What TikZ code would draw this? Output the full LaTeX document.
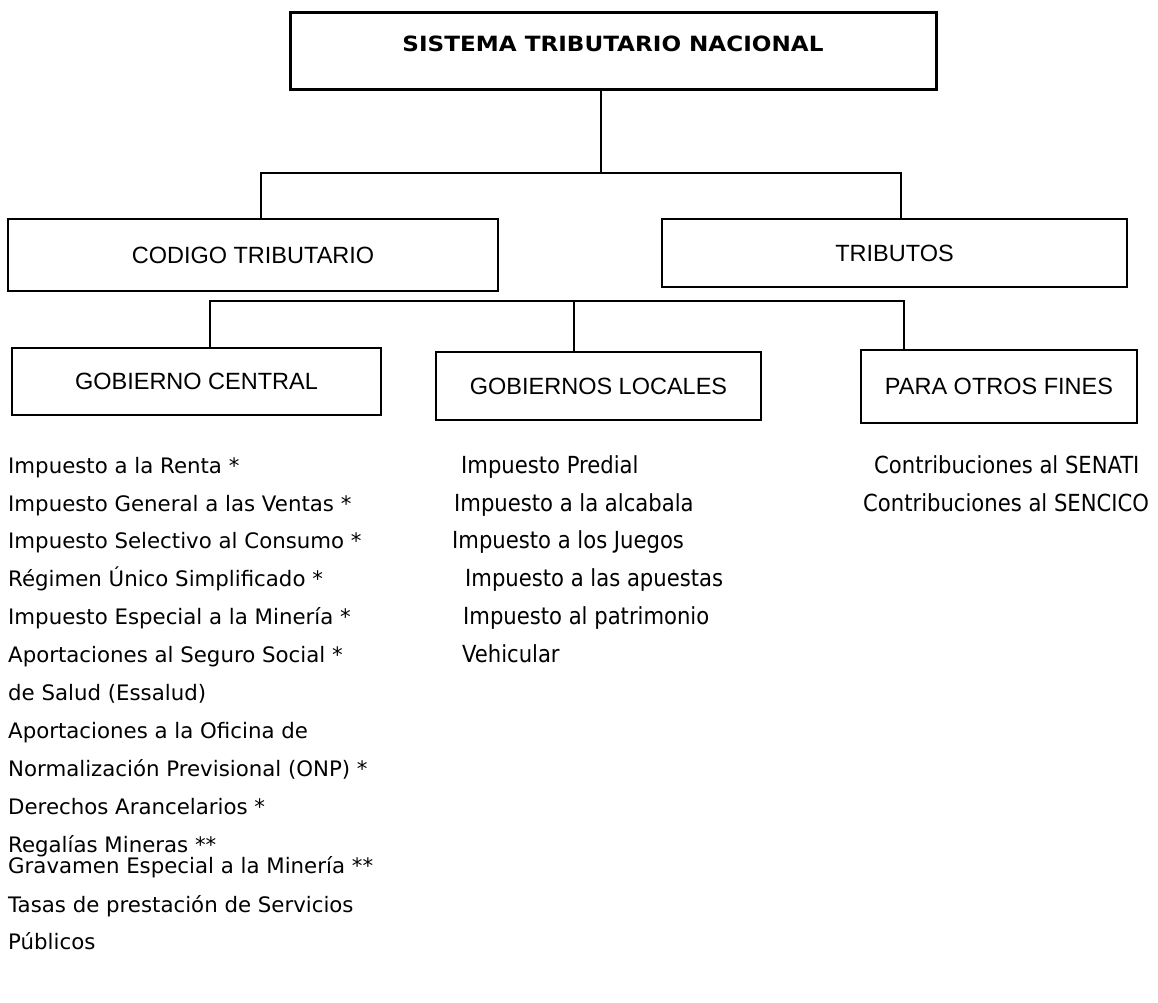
\documentclass[tikz,border=0pt]{standalone}
\usepackage{fontspec}
\usepackage{graphicx}
\setmainfont{DejaVu Sans}
\newfontfamily\listfont{DejaVu Sans}
\newfontfamily\condfont{DejaVu Sans Condensed}
\newfontfamily\boxfont{Liberation Sans}
\tikzset{
  boxnode/.style={draw, line width=1.4pt, rectangle, inner sep=0pt,
    font=\boxfont\fontsize{23.5}{28}\selectfont},
  conn/.style={line width=1.4pt},
  litem/.style={anchor=base west, inner sep=0pt, font=\listfont\fontsize{21.3}{25}\selectfont},
  citem/.style={anchor=base west, inner sep=0pt, font=\condfont\fontsize{23.5}{28}\selectfont},
}
\begin{document}
\begin{tikzpicture}[x=1pt,y=-1pt]
\useasboundingbox[fill=white] (0,0) rectangle (1158,1002);

% top box
\node[draw, line width=3pt, minimum width=646pt, minimum height=77pt, inner sep=0pt] (top) at (613,50.5) {};
\node[inner sep=0pt, font=\bfseries\fontsize{21}{25}\selectfont] (toptxt) at (613,44) {\scalebox{1.1}[1]{SISTEMA TRIBUTARIO NACIONAL}};

% second level
\node[boxnode, minimum width=490pt, minimum height=72pt] (cod) at (253,255) {CODIGO TRIBUTARIO};
\node[boxnode, minimum width=465pt, minimum height=68pt] (trib) at (894.5,253) {TRIBUTOS};

% third level
\node[boxnode, minimum width=369pt, minimum height=67pt] (gc) at (196.5,381.5) {GOBIERNO CENTRAL};
\node[boxnode, minimum width=325pt, minimum height=68pt] (gl) at (598.5,386) {GOBIERNOS LOCALES};
\node[boxnode, minimum width=276pt, minimum height=73pt] (po) at (999,386.5) {PARA OTROS FINES};

% connectors level 1
\coordinate (j1) at (601,173);
\coordinate (j1l) at (261,173);
\coordinate (j1r) at (901,173);
\draw[conn] (top.south -| j1) -- (j1);
\draw[conn] (cod.north -| j1l) -- (j1l) -- (j1r) -- (trib.north -| j1r);

% connectors level 2
\coordinate (j2l) at (210,301);
\coordinate (j2m) at (574,301);
\coordinate (j2r) at (904,301);
\draw[conn] (gc.north -| j2l) -- (j2l) -- (j2r) -- (po.north -| j2r);
\draw[conn] (j2m) -- (gl.north -| j2m);

% left list
\node[litem] (l1) at (8,473) {Impuesto a la Renta *};
\node[litem] (l2) at (8,511) {Impuesto General a las Ventas *};
\node[litem] (l3) at (8,548) {Impuesto Selectivo al Consumo *};
\node[litem] (l4) at (8,586) {Régimen Único Simplificado *};
\node[litem] (l5) at (8,624) {Impuesto Especial a la Minería *};
\node[litem] (l6) at (8,662) {Aportaciones al Seguro Social *};
\node[litem] (l7) at (8,700) {de Salud (Essalud)};
\node[litem] (l8) at (8,738) {Aportaciones a la Oficina de};
\node[litem] (l9) at (8,776) {Normalización Previsional (ONP) *};
\node[litem] (l10) at (8,814) {Derechos Arancelarios *};
\node[litem] (l11) at (8,852) {Regalías Mineras **};
\node[litem] (l12) at (8,873) {Gravamen Especial a la Minería **};
\node[litem] (l13) at (8,912) {Tasas de prestación de Servicios};
\node[litem] (l14) at (8,949) {Públicos};

% middle list
\node[citem] (m1) at (461,473) {Impuesto Predial};
\node[citem] (m2) at (454,511) {Impuesto a la alcabala};
\node[citem] (m3) at (452,548) {Impuesto a los Juegos};
\node[citem] (m4) at (465,586) {Impuesto a las apuestas};
\node[citem] (m5) at (463,624) {Impuesto al patrimonio};
\node[citem] (m6) at (462,662) {Vehicular};

% right list
\node[citem] (r1) at (874,473) {Contribuciones al SENATI};
\node[citem] (r2) at (863,511) {Contribuciones al SENCICO};
\end{tikzpicture}
\end{document}
